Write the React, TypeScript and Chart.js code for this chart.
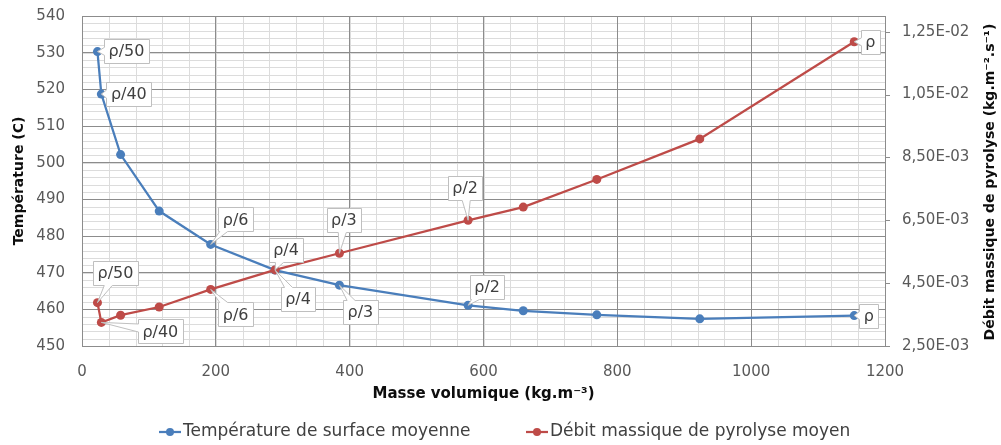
import React, { useEffect, useRef } from "react";
import { Chart, registerables } from "chart.js";

Chart.register(...registerables);

// ---- data ----
const densities = [23.1, 28.9, 57.7, 115.4, 192.3, 288.5, 384.7, 577, 659.4, 769.3, 923.2, 1154];
const surfaceTemp = [530.3, 518.7, 502.2, 486.8, 477.7, 470.7, 466.6, 461.1, 459.6, 458.5, 457.4, 458.3];
const pyrolysisRate = [0.00388, 0.00325, 0.00348, 0.00374, 0.0043, 0.00492, 0.00545, 0.0065, 0.00692, 0.0078, 0.00909, 0.01218];
const pointLabels = ["ρ/50", "ρ/40", "", "", "ρ/6", "ρ/4", "ρ/3", "ρ/2", "", "", "", "ρ"];

const seriesNames = ["Température de surface moyenne", "Débit massique de pyrolyse moyen"];
const xTitle = "Masse volumique (kg.m⁻³)";
const yLeftTitle = "Température (C)";
const yRightTitle = "Débit massique de pyrolyse (kg.m⁻².s⁻¹)";

const xTicks = [0, 200, 400, 600, 800, 1000, 1200];
const tempTicks = [450, 460, 470, 480, 490, 500, 510, 520, 530, 540];
const rateTicks = [0.0025, 0.0045, 0.0065, 0.0085, 0.0105, 0.0125];
const rateMax = 0.013;
const xMinorStep = 40;
const yMinorStep = 2;

// ---- styles ----
const BLUE = "#4a7ebb";
const RED = "#be4b48";
const MAJOR = "#8c8c8c";
const MINOR = "#dcdcdc";
const FONT = '"DejaVu Sans", sans-serif';

// callout offsets (box centre relative to point), per series
const calloutOffsets: (number[] | null)[][] = [
  [[29, -1], [27.5, 0], null, null, [25, -25], [11, -20], [21, 27], [19, -18], null, null, null, [14.5, 0]],
  [[18, -30], [59, 9], null, null, [25, 25], [23, 29], [4.5, -33], [-3, -32], null, null, null, [16, 0]],
];

function fmtRate(v: number) {
  const [m, e] = v.toExponential(2).split("e");
  const ei = parseInt(e, 10);
  return m.replace(".", ",") + "E" + (ei < 0 ? "-" : "+") + String(Math.abs(ei)).padStart(2, "0");
}

const minorGridPlugin = {
  id: "minorGrid",
  beforeDraw(chart: any) {
    const { ctx, chartArea: a, scales } = chart;
    const xs = scales.x;
    const ys = scales.yTemp;
    ctx.save();
    ctx.strokeStyle = MINOR;
    ctx.lineWidth = 1;
    for (let v = xs.min; v <= xs.max + 1e-9; v += xMinorStep) {
      const px = Math.round(xs.getPixelForValue(v)) + 0.5;
      ctx.beginPath();
      ctx.moveTo(px, a.top);
      ctx.lineTo(px, a.bottom);
      ctx.stroke();
    }
    for (let v = ys.min; v <= ys.max + 1e-9; v += yMinorStep) {
      const py = Math.round(ys.getPixelForValue(v)) + 0.5;
      ctx.beginPath();
      ctx.moveTo(a.left, py);
      ctx.lineTo(a.right, py);
      ctx.stroke();
    }
    ctx.restore();
  },
  afterDraw(chart: any) {
    // short outside tick marks on the secondary axis
    const { ctx, scales } = chart;
    const rs = scales.yRate;
    ctx.save();
    ctx.strokeStyle = MAJOR;
    ctx.lineWidth = 1;
    rateTicks.forEach((v) => {
      const py = Math.round(rs.getPixelForValue(v)) + 0.5;
      ctx.beginPath();
      ctx.moveTo(rs.left, py);
      ctx.lineTo(rs.left + 5, py);
      ctx.stroke();
    });
    ctx.restore();
  },
};

const calloutPlugin = {
  id: "callouts",
  afterDatasetsDraw(chart: any) {
    const { ctx } = chart;
    ctx.save();
    ctx.font = "16px " + FONT;
    for (let i = 0; i < chart.data.datasets.length; i++) {
      const meta = chart.getDatasetMeta(i);
      meta.data.forEach((el: any, j: number) => {
        const text = pointLabels[j];
        const off = calloutOffsets[i][j];
        if (!text || !off) return;
        const px = el.x;
        const py = el.y;
        const cx = px + off[0];
        const cy = py + off[1];
        const w = ctx.measureText(text).width + 9;
        const h = 24;
        const L = Math.round(cx - w / 2) + 0.5;
        const R = Math.round(cx + w / 2) + 0.5;
        const T = Math.round(cy - h / 2) + 0.5;
        const B = Math.round(cy + h / 2) + 0.5;
        const dx = px - cx;
        const dy = py - cy;
        const tX = Math.abs(dx) > 1e-6 ? (w / 2) / Math.abs(dx) : Infinity;
        const tY = Math.abs(dy) > 1e-6 ? (h / 2) / Math.abs(dy) : Infinity;
        let side = "";
        let base = 0;
        const hw = 4;
        if (tX < tY) {
          side = dx < 0 ? "left" : "right";
          base = Math.min(Math.max(cy + dy * tX, T + hw + 1), B - hw - 1);
        } else {
          side = dy < 0 ? "top" : "bottom";
          base = Math.min(Math.max(cx + dx * tY, L + hw + 1), R - hw - 1);
        }
        const inside = px >= L && px <= R && py >= T && py <= B;
        ctx.beginPath();
        ctx.moveTo(L, T);
        if (side === "top" && !inside) {
          ctx.lineTo(base - hw, T);
          ctx.lineTo(px, py);
          ctx.lineTo(base + hw, T);
        }
        ctx.lineTo(R, T);
        if (side === "right" && !inside) {
          ctx.lineTo(R, base - hw);
          ctx.lineTo(px, py);
          ctx.lineTo(R, base + hw);
        }
        ctx.lineTo(R, B);
        if (side === "bottom" && !inside) {
          ctx.lineTo(base + hw, B);
          ctx.lineTo(px, py);
          ctx.lineTo(base - hw, B);
        }
        ctx.lineTo(L, B);
        if (side === "left" && !inside) {
          ctx.lineTo(L, base + hw);
          ctx.lineTo(px, py);
          ctx.lineTo(L, base - hw);
        }
        ctx.closePath();
        ctx.fillStyle = "#ffffff";
        ctx.fill();
        ctx.strokeStyle = "#bfbfbf";
        ctx.lineWidth = 1;
        ctx.stroke();
        ctx.fillStyle = "#404040";
        ctx.textAlign = "center";
        ctx.textBaseline = "middle";
        ctx.fillText(text, cx, cy + 1);
      });
    }
    ctx.restore();
  },
};

const extrasPlugin = {
  id: "extras",
  afterDraw(chart: any) {
    const { ctx, chartArea: a } = chart;
    ctx.save();
    // right axis title (reads bottom to top)
    ctx.translate(990, (a.top + a.bottom) / 2 + 1);
    ctx.rotate(-Math.PI / 2);
    ctx.font = "bold 14px " + FONT;
    ctx.fillStyle = "#0d0d0d";
    ctx.textAlign = "center";
    ctx.textBaseline = "middle";
    ctx.fillText(yRightTitle, 0, 0);
    ctx.restore();

    // legend
    const items = [
      { x: 159, color: BLUE, text: seriesNames[0] },
      { x: 526, color: RED, text: seriesNames[1] },
    ];
    const ly = 432;
    ctx.save();
    ctx.font = "17px " + FONT;
    ctx.textBaseline = "middle";
    ctx.textAlign = "left";
    items.forEach((it) => {
      ctx.strokeStyle = it.color;
      ctx.lineWidth = 2.25;
      ctx.beginPath();
      ctx.moveTo(it.x, ly);
      ctx.lineTo(it.x + 22, ly);
      ctx.stroke();
      ctx.fillStyle = it.color;
      ctx.beginPath();
      ctx.arc(it.x + 11, ly, 4, 0, Math.PI * 2);
      ctx.fill();
      ctx.fillStyle = "#404040";
      ctx.fillText(it.text, it.x + 24, ly);
    });
    ctx.restore();
  },
};

export default function App() {
  const ref = useRef<HTMLCanvasElement | null>(null);

  useEffect(() => {
    if (!ref.current) return;
    const chart = new Chart(ref.current, {
      type: "scatter",
      data: {
        datasets: [
          {
            label: seriesNames[0],
            data: densities.map((x, i) => ({ x, y: surfaceTemp[i] })),
            yAxisID: "yTemp",
            showLine: true,
            borderColor: BLUE,
            backgroundColor: BLUE,
            borderWidth: 2.25,
            pointRadius: 4.5,
            pointHoverRadius: 4.5,
            pointBorderWidth: 0,
            tension: 0,
            order: 1,
          },
          {
            label: seriesNames[1],
            data: densities.map((x, i) => ({ x, y: pyrolysisRate[i] })),
            yAxisID: "yRate",
            showLine: true,
            borderColor: RED,
            backgroundColor: RED,
            borderWidth: 2.25,
            pointRadius: 4.5,
            pointHoverRadius: 4.5,
            pointBorderWidth: 0,
            tension: 0,
            order: 0,
          },
        ],
      },
      options: {
        animation: false,
        responsive: false,
        devicePixelRatio: 1,
        layout: { padding: { top: 16, left: 0, right: 0, bottom: 0 } },
        plugins: {
          legend: { display: false },
          tooltip: { enabled: false },
        },
        scales: {
          x: {
            type: "linear",
            min: 0,
            max: 1200,
            afterBuildTicks: (s: any) => {
              s.ticks = xTicks.map((v) => ({ value: v }));
            },
            afterFit: (s: any) => {
              s.height = 99;
            },
            ticks: {
              autoSkip: false,
              maxRotation: 0,
              color: "#595959",
              font: { family: FONT, size: 15 },
              padding: 17,
              callback: (v: any) => String(v),
            },
            grid: { color: MAJOR, lineWidth: 1, drawTicks: false },
            border: { color: MAJOR, width: 1 },
            title: {
              display: true,
              text: xTitle,
              color: "#0d0d0d",
              font: { family: FONT, size: 15, weight: "bold" },
              padding: { top: 0, bottom: 42 },
            },
          },
          yTemp: {
            type: "linear",
            position: "left",
            min: 450,
            max: 540,
            afterBuildTicks: (s: any) => {
              s.ticks = tempTicks.map((v) => ({ value: v }));
            },
            afterFit: (s: any) => {
              s.width = 82;
            },
            ticks: {
              color: "#595959",
              font: { family: FONT, size: 15 },
              padding: 0,
              callback: (v: any) => String(v),
            },
            grid: { color: MAJOR, lineWidth: 1, drawTicks: true, tickLength: 17, tickColor: "rgba(0,0,0,0)" },
            border: { color: MAJOR, width: 1 },
            title: {
              display: true,
              text: yLeftTitle,
              color: "#0d0d0d",
              font: { family: FONT, size: 14, weight: "bold" },
              padding: { top: 10.6, bottom: 0 },
            },
          },
          yRate: {
            type: "linear",
            position: "right",
            min: rateTicks[0],
            max: rateMax,
            afterBuildTicks: (s: any) => {
              s.ticks = rateTicks.map((v) => ({ value: v }));
            },
            afterFit: (s: any) => {
              s.width = 116;
            },
            ticks: {
              color: "#595959",
              font: { family: FONT, size: 15 },
              padding: 0,
              callback: (v: any) => fmtRate(Number(v)),
            },
            grid: { drawOnChartArea: false, drawTicks: true, tickLength: 17, tickColor: "rgba(0,0,0,0)" },
            border: { color: MAJOR, width: 1 },
            title: { display: false },
          },
        },
      } as any,
      plugins: [minorGridPlugin, calloutPlugin, extrasPlugin],
    });
    return () => chart.destroy();
  }, []);

  return (
    <div style={{ position: "fixed", left: 0, top: 0, width: 1001, height: 445, background: "#fff" }}>
      <canvas ref={ref} width={1001} height={445} style={{ width: 1001, height: 445, display: "block" }} />
    </div>
  );
}
